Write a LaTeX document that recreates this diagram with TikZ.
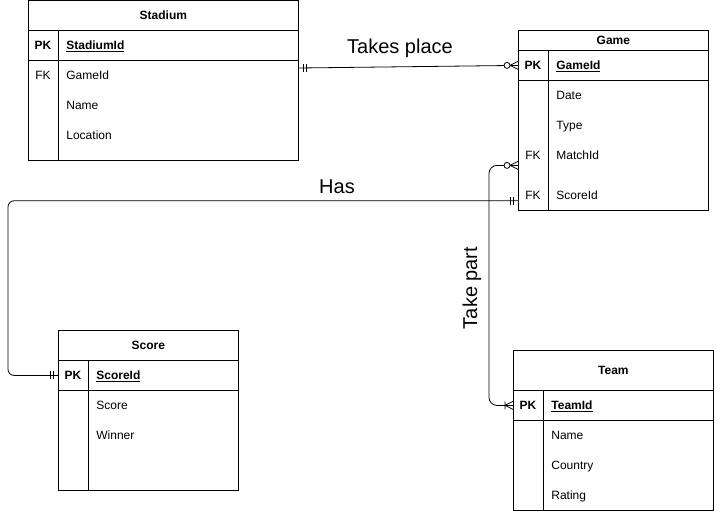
\documentclass[tikz,border=0pt]{standalone}
\usepackage{fontspec}
\setmainfont{Liberation Sans}
\usetikzlibrary{positioning, calc}

\begin{document}
\begin{tikzpicture}[x=1pt, y=-1pt, line width=0.8pt,
      every node/.style={font=\fontsize{12}{14}\selectfont, text height=8.6pt, text depth=0pt},
      tbl/.style={draw, anchor=north west, inner sep=0pt},
      title/.style={tbl, font=\bfseries\fontsize{12}{14}\selectfont},
      key/.style={font=\bfseries\fontsize{12}{14}\selectfont},
      field/.style={anchor=west, inner sep=0pt},
      keyfield/.style={field, font=\bfseries\fontsize{12}{14}\selectfont},
      rel/.style={font=\fontsize{20}{24}\selectfont, text height=14.3pt},
      mandone/.pic={\draw (-5,-4) -- (-5,4) (-8,-4) -- (-8,4);},
      zeromany/.pic={\draw (-8,0) -- (0,-4) (-8,0) -- (0,4);
        \draw[fill=white] (-11,0) circle (3pt);},
      onemany/.pic={\draw (-8,0) -- (0,-4) (-8,0) -- (0,4) (-8,-4) -- (-8,4);}
    ]
      \useasboundingbox (0,0) rectangle (714,511);

      % Stadium
      \node[title, minimum width=270pt, minimum height=30pt] (stadium) at (28,0) {Stadium};
      \node[tbl, minimum width=270pt, minimum height=30pt] (stadiumPK) at (28,30) {};
      \node[tbl, minimum width=270pt, minimum height=100pt] (stadiumBody) at (28,60) {};
      \draw ([xshift=30pt]stadiumPK.north west) -- ([xshift=30pt]stadiumBody.south west);
      \node[key] (stadiumPKkey) at (43,45) {PK};
      \node[keyfield] (stadiumId) at (66,45) {\underline{StadiumId}};
      \node (stadiumFK) at (43,75) {FK};
      \node[field] (stadiumGame) at (66,75) {GameId};
      \node[field] (stadiumName) at (66,105) {Name};
      \node[field] (stadiumLoc) at (66,135) {Location};

      % Game
      \node[title, minimum width=190pt, minimum height=20pt] (game) at (518,30) {Game};
      \node[tbl, minimum width=190pt, minimum height=30pt] (gamePK) at (518,50) {};
      \node[tbl, minimum width=190pt, minimum height=130pt] (gameBody) at (518,80) {};
      \draw ([xshift=30pt]gamePK.north west) -- ([xshift=30pt]gameBody.south west);
      \node[key] (gamePKkey) at (533,65) {PK};
      \node[keyfield] (gameId) at (556,65) {\underline{GameId}};
      \node[field] (gameDate) at (556,95) {Date};
      \node[field] (gameType) at (556,125) {Type};
      \node (gameFKa) at (533,155) {FK};
      \node[field] (gameMatchId) at (556,155) {MatchId};
      \node (gameFKb) at (533,195) {FK};
      \node[field] (gameScoreId) at (556,195) {ScoreId};

      % Score
      \node[title, minimum width=180pt, minimum height=30pt] (score) at (58,330) {Score};
      \node[tbl, minimum width=180pt, minimum height=30pt] (scorePK) at (58,360) {};
      \node[tbl, minimum width=180pt, minimum height=100pt] (scoreBody) at (58,390) {};
      \draw ([xshift=30pt]scorePK.north west) -- ([xshift=30pt]scoreBody.south west);
      \node[key] (scorePKkey) at (73,375) {PK};
      \node[keyfield] (scoreId) at (96,375) {\underline{ScoreId}};
      \node[field] (scoreScore) at (96,405) {Score};
      \node[field] (scoreWinner) at (96,435) {Winner};

      % Team
      \node[title, minimum width=200pt, minimum height=40pt] (team) at (513,350) {Team};
      \node[tbl, minimum width=200pt, minimum height=30pt] (teamPK) at (513,390) {};
      \node[tbl, minimum width=200pt, minimum height=90pt] (teamBody) at (513,420) {};
      \draw ([xshift=30pt]teamPK.north west) -- ([xshift=30pt]teamBody.south west);
      \node[key] (teamPKkey) at (528,405) {PK};
      \node[keyfield] (teamId) at (551,405) {\underline{TeamId}};
      \node[field] (teamName) at (551,435) {Name};
      \node[field] (teamCountry) at (551,465) {Country};
      \node[field] (teamRating) at (551,495) {Rating};

      % Relations
      \coordinate (stadiumOut) at ($(stadiumBody.north east)+(0,8)$);
      \coordinate (gameHas) at ($(gameBody.south west)+(0,-10)$);
      \coordinate (gameMatch) at ($(gameBody.west)+(0,20)$);

      \draw (stadiumOut) -- (gamePK.west);
      \pic[xscale=-1] at (stadiumOut) {mandone};
      \pic at (gamePK.west) {zeromany};

      \draw[rounded corners=6pt] (gameHas) -| ($(scorePK.west)+(-50,0)$) -- (scorePK.west);
      \pic at (gameHas) {mandone};
      \pic at (scorePK.west) {mandone};

      \draw[rounded corners=8pt] (gameMatch) -| ($(teamPK.west)+(-24,0)$) -- (teamPK.west);
      \pic at (gameMatch) {zeromany};
      \pic at (teamPK.west) {onemany};

      \node[rel] (takesLbl) at (400,46) {Takes place};
      \node[rel] (hasLbl) at (337,186) {Has};
      \node[rel, rotate=90] (partLbl) at (470,288) {Take part};
    \end{tikzpicture}
\end{document}
